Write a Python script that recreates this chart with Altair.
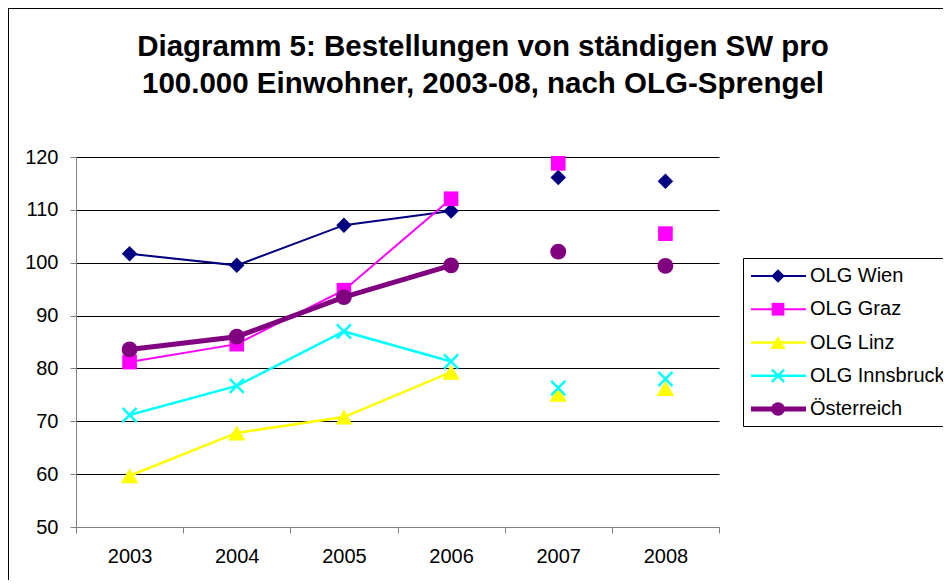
import altair as alt
import pandas as pd

years = ["2003", "2004", "2005", "2006", "2007", "2008"]
series = ["OLG Wien", "OLG Graz", "OLG Linz", "OLG Innsbruck", "Österreich"]
wien = [101.7, 99.5, 107.1, 109.8, 116.1, 115.4]
graz = [81.2, 84.6, 94.8, 112.1, 118.8, 105.5]
linz = [59.7, 67.8, 70.8, 79.3, 75.1, 76.2]
innsbruck = [71.2, 76.7, 87.0, 81.3, 76.3, 78.0]
oesterreich = [83.6, 86.0, 93.5, 99.5, 102.1, 99.4]
connected = [True, True, True, True, False, False]
y_ticks = [50, 60, 70, 80, 90, 100, 110, 120]
title_lines = [
    "Diagramm 5: Bestellungen von ständigen SW pro",
    "100.000 Einwohner, 2003-08, nach OLG-Sprengel",
]

values = {
    "OLG Wien": wien,
    "OLG Graz": graz,
    "OLG Linz": linz,
    "OLG Innsbruck": innsbruck,
    "Österreich": oesterreich,
}
rows = []
for s in series:
    for yr, v, c in zip(years, values[s], connected):
        rows.append({"series": s, "year": yr, "value": v, "connected": c})
df = pd.DataFrame(rows)
legend_df = pd.DataFrame({"series": series})
box_df = pd.DataFrame({"box": [0]})

XMARK = "M-1,-1L1,1M-1,1L1,-1"
style = {
    "OLG Wien": dict(color="#000080", shape="diamond", size=240, filled=True, lw=2),
    "OLG Graz": dict(color="#FF00FF", shape="square", size=215, filled=True, lw=2),
    "OLG Linz": dict(color="#FFFF00", shape="triangle-up", size=300, filled=True, lw=2.5),
    "OLG Innsbruck": dict(color="#00FFFF", shape=XMARK, size=200, filled=False, lw=2.5),
    "Österreich": dict(color="#800080", shape="circle", size=250, filled=True, lw=5),
}

FONT = "Liberation Sans"

x_enc = alt.X(
    "year:O",
    sort=years,
    scale=alt.Scale(type="band", domain=years, paddingInner=0, paddingOuter=0),
    axis=alt.Axis(title=None, labelAngle=0, tickBand="extent", grid=False,
                  labelPadding=13, domainColor="#808080", tickColor="#808080",
                  tickSize=6),
)
y_enc = alt.Y(
    "value:Q",
    scale=alt.Scale(domain=[50, 120], nice=False, zero=False),
    axis=alt.Axis(title=None, values=y_ticks, grid=True, gridColor="#000000",
                  gridWidth=1, labelPadding=12, domainColor="#808080",
                  tickColor="#808080", tickSize=6),
)

main_layers = []
for s in series:
    st = style[s]
    base = alt.Chart(df).transform_filter(alt.datum.series == s)
    main_layers.append(
        base.transform_filter(alt.datum.connected == True)
        .mark_line(color=st["color"], strokeWidth=st["lw"])
        .encode(x=x_enc, y=y_enc)
    )
    pt = dict(shape=st["shape"], size=st["size"], opacity=1)
    if st["filled"]:
        pt.update(filled=True, fill=st["color"], strokeWidth=0)
    else:
        pt.update(filled=False, stroke=st["color"], strokeWidth=2.5)
    main_layers.append(base.mark_point(**pt).encode(x=x_enc, y=y_enc))
main = alt.layer(*main_layers)

ly = alt.Y("series:N", scale=alt.Scale(type="point", domain=series,
                                       range=[119, 252], padding=0), axis=None)

deco_layers = [
    # legend frame
    alt.Chart(box_df).mark_rect(fill="white", stroke="black", strokeWidth=1).encode(
        x=alt.value(667.5), x2=alt.value(900), y=alt.value(101.5), y2=alt.value(269.5)
    ),
    # chart area border (left and top edges visible)
    alt.Chart(box_df).mark_rule(color="black", strokeWidth=1).encode(
        x=alt.value(-67.5), y=alt.value(-149), y2=alt.value(430)
    ),
    alt.Chart(box_df).mark_rule(color="black", strokeWidth=1).encode(
        x=alt.value(-68), x2=alt.value(900), y=alt.value(-148.5)
    ),
]
# title, two lines
for line, ypos in zip(title_lines, [-101, -64.5]):
    deco_layers.append(
        alt.Chart(box_df).mark_text(
            align="center", baseline="alphabetic", font=FONT, fontSize=29.5,
            fontWeight="bold", color="black",
        ).encode(x=alt.value(407), y=alt.value(ypos), text=alt.value(line))
    )
for s in series:
    st = style[s]
    base = alt.Chart(legend_df).transform_filter(alt.datum.series == s)
    deco_layers.append(
        base.mark_rule(color=st["color"], strokeWidth=st["lw"]).encode(
            x=alt.value(675), x2=alt.value(730), y=ly
        )
    )
    pt = dict(shape=st["shape"], size=st["size"] * 0.75, opacity=1)
    if st["filled"]:
        pt.update(filled=True, fill=st["color"], strokeWidth=0)
    else:
        pt.update(filled=False, stroke=st["color"], strokeWidth=2.5)
    deco_layers.append(base.mark_point(**pt).encode(x=alt.value(702), y=ly))
deco_layers.append(
    alt.Chart(legend_df).mark_text(align="left", baseline="middle", font=FONT,
                                   fontSize=20, color="black").encode(
        x=alt.value(734), y=ly, text="series:N"
    )
)
legend = alt.layer(*deco_layers)

chart = (
    alt.layer(main, legend)
    .resolve_scale(y="independent")
    .properties(
        width=643,
        height=370,
        autosize=alt.AutoSizeParams(type="none"),
        padding={"left": 68, "top": 149, "right": 224, "bottom": 53},
    )
    .configure_view(stroke=None)
    .configure_axis(labelFont=FONT, labelFontSize=20, labelColor="black")
)

chart.save("out.html", embed_options={"renderer": "svg", "actions": False})
